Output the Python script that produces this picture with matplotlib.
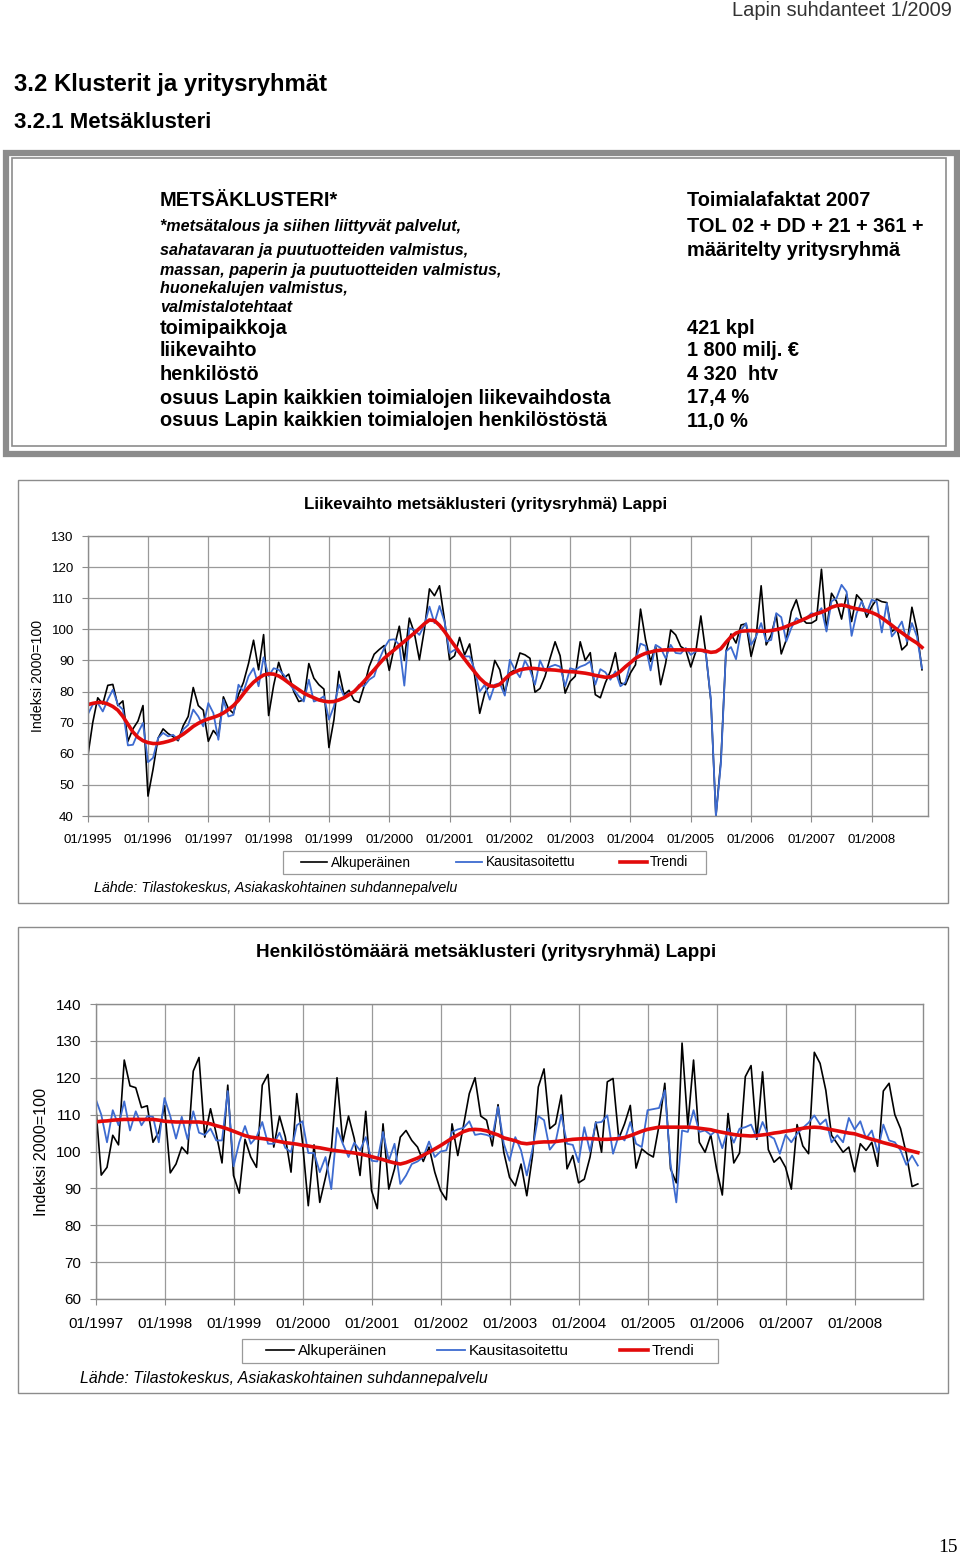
import matplotlib
matplotlib.use('Agg')
import matplotlib.pyplot as plt
from matplotlib.patches import Rectangle
import numpy as np

W, H = 960, 1555
plt.rcParams['font.family'] = ['Liberation Sans', 'DejaVu Sans']

# --- Liikevaihto, monthly 01/1995 - 11/2008 ---
liike_alkup = [
    59, 70, 78, 76, 82, 82.3, 75.5, 77, 64, 68, 70.5, 75.5,
    46.4, 55, 65, 68, 66.5, 65.5, 64.2, 69, 72, 81.3, 75.5, 74,
    64, 67.5, 65.5, 78.3, 74.5, 73, 79, 83, 89, 96.5, 87, 98.3,
    72.3, 82, 89.4, 84.3, 85.6, 80, 76.8, 77.3, 89, 84.3, 82.2, 80.8,
    62, 71, 86.5, 79, 80.4, 77.2, 76.5, 81.7, 88, 92, 93.5, 94.8,
    86.8, 94.3, 101, 90, 103.6, 98.8, 90.2, 100, 113, 110.8, 114, 103,
    90.2, 91.5, 97.4, 91.8, 95.3, 85, 73, 79.5, 82, 90, 87, 79.5,
    86, 87, 92.4, 91.8, 90.7, 79.8, 81, 84.9, 90.7, 96, 91.5, 79.5,
    83.3, 84.9, 96, 90, 92.5, 79, 78, 82.8, 86.5, 92.5, 82.8, 82.2,
    86, 88.6, 106.5, 96.6, 89.7, 94.5, 82.2, 89.1, 99.8, 98.2, 94.5, 93.4,
    87.9, 92.9, 104.3, 92.3, 77, 40, 58, 92.9, 98.5, 95.6, 101.4, 101.8,
    91.3, 97.7, 114, 95, 98.2, 104.7, 92.1, 96.6, 105.7, 109.5, 103.6, 102,
    102, 103, 119.3, 99.8, 111.6, 109, 103.3, 111.3, 102.5, 111.1, 109.3, 103.9,
    107.3, 109.7, 108.9, 108.6, 99.3, 100.4, 93.4, 95, 107.1, 99.8, 87,
]
liike_kausi = [
    72.6, 75.8, 76.3, 73.6, 77.4, 80.6, 75.8, 74.2, 62.7, 62.9, 66.7, 69.9,
    57.3, 58.7, 65, 66.7, 65.6, 66.1, 64.5, 67.8, 69.3, 74.2, 72, 68.8,
    76.3, 73.1, 64.5, 77.4, 72, 72.5, 82.2, 80, 84.9, 87.5, 81.7, 91,
    85, 87.5, 87, 85.4, 82.7, 80.6, 78.5, 76.8, 83.8, 76.8, 77.4, 78.5,
    71, 75.3, 82.2, 78.5, 79.5, 80, 82.2, 81.7, 83.8, 84.9, 90.2, 94,
    96.6, 96.8, 95, 81.9, 100.4, 99.8, 98.2, 101.4, 107.3, 102, 107.5, 102.5,
    92.4, 93.4, 92.4, 91.3, 91.3, 87, 80, 82.2, 77.4, 82.2, 82.7, 78.7,
    90.2, 87, 84.6, 90, 87, 82.2, 90, 86.5, 88, 88.6, 88, 81.7,
    87.5, 87, 88, 88.6, 89.7, 82.2, 87.2, 86.2, 83.8, 86.5, 81.7, 83,
    89.1, 90.2, 95.4, 94.7, 86.8, 95, 94, 90.7, 95, 92.4, 92.2, 94,
    91.8, 92.9, 93.4, 92.3, 77.4, 40, 57, 92.9, 94.3, 90.4, 99.8, 102,
    95, 97.7, 102, 96.1, 96.6, 105.2, 103.9, 96.1, 100.4, 103.6, 102.5, 103.6,
    105.2, 104.7, 106.8, 99.3, 109, 110, 114.3, 112.1, 97.9, 105.2, 109, 105.2,
    109.5, 108.9, 99, 108.4, 97.7, 99.8, 102.5, 96.1, 102, 97.7, 87.5,
]
liike_trendi = [
    75.8, 76.2, 76.5, 76.5, 76, 75.2, 74, 72, 69.5, 67, 65.3, 64.2,
    63.6, 63.3, 63.3, 63.6, 64, 64.5, 65.3, 66.3, 67.5, 68.8, 69.8, 70.6,
    71.2, 71.7, 72.3, 73.1, 74.2, 75.5, 77.2, 79.3, 81.3, 83, 84.3, 85.3,
    85.7, 85.6, 85, 84, 82.8, 81.7, 80.6, 79.5, 78.7, 78, 77.3, 76.9,
    76.7, 76.8, 77.3, 78, 79, 80, 81.6, 83.3, 85.2, 87, 88.9, 90.7,
    92.1, 93.4, 94.8, 96.1, 97.5, 98.8, 100.3, 101.8, 103, 102.8, 101.3, 99.3,
    97, 94.8, 92.5, 90.4, 88.3, 86.3, 84.3, 82.8, 81.8, 81.7, 82.3, 84,
    85.5, 86.3, 87, 87.3, 87.5, 87.4, 87.2, 87, 87, 86.9, 86.7, 86.5,
    86.4, 86.3, 86.1, 85.9, 85.6, 85.2, 84.9, 84.6, 84.7, 85.3, 86.5, 88,
    89.3, 90.7, 91.6, 92.3, 92.7, 93.1, 93.3, 93.4, 93.4, 93.4, 93.4, 93.4,
    93.4, 93.4, 93.3, 93, 92.6, 92.8, 93.8, 95.8, 97.6, 98.8, 99.4, 99.5,
    99.6, 99.5, 99.4, 99.4, 99.6, 99.9, 100.3, 100.9, 101.6, 102.2, 102.9, 103.6,
    104.4, 105, 105.5, 106.2, 107.1, 107.6, 107.8, 107.5, 107, 106.6, 106.3, 106,
    105.4, 104.7, 103.7, 102.5, 101.3, 100, 98.9, 97.7, 96.6, 95.6, 94.2,
]
liike_vuodet = ['01/%d' % v for v in range(1995, 2009)]

# --- Henkilöstömäärä, monthly 01/1997 - 12/2008 ---
henk_alkup = [
    113, 93.6, 95.7, 104.4, 101.8, 124.8, 117.8, 117.3, 111.9, 112.4, 102.5, 105.3,
    112.4, 94.2, 96.6, 101.2, 99.4, 121.8, 125.5, 103.9, 111.6, 104.8, 96.9, 118,
    93.5, 88.7, 103.3, 98.5, 95.7, 118, 120.9, 101.2, 109.6, 104, 94.4, 115.7,
    102.5, 85.3, 101.8, 86.2, 93, 100.3, 120, 102.5, 109.6, 103.5, 93.5, 110.9,
    89.4, 84.5, 107.5, 89.8, 95.3, 103.9, 105.7, 103, 101.2, 97.3, 101.2, 94.4,
    89.4, 86.9, 107.5, 98.9, 107.1, 115.7, 120, 109.6, 108.5, 101.5, 112.7, 99.8,
    93, 90.7, 96.6, 88, 98.9, 117.5, 122.4, 106.2, 107.5, 115.3, 95.3, 98.9,
    91.5, 92.5, 98.5, 108, 99.8, 118.9, 119.8, 103.5, 107.5, 112.5, 95.5, 100.7,
    99.4, 98.5, 107.1, 118.5, 95.3, 91.5, 129.4, 107.1, 124.8, 102.5, 99.8, 104.5,
    95.3, 88.2, 110.3, 96.9, 99.6, 120.3, 123.3, 103.3, 121.6, 100.5, 97.1, 98.5,
    95.7, 89.8, 107.3, 101.5, 99.4, 126.9, 123.9, 116.6, 104.4, 102.1, 99.8, 101.2,
    94.5, 102.1, 100.3, 102.5, 96, 116.4, 118.5, 110, 106.2, 99.4, 90.5, 91.2,
]
henk_kausi = [
    114.4, 110, 102.5, 111.2, 107.1, 113.6, 105.7, 110.9, 107.1, 109.6, 109.4, 102.5,
    114.5, 109.6, 103.5, 109.4, 103.3, 110.9, 105.1, 104.5, 106.2, 103, 103, 116.4,
    96, 102.5, 106.9, 102.1, 103.9, 108, 102.1, 102.1, 105.1, 101, 99.8, 107.1,
    108.2, 99.6, 99.6, 94.4, 98.5, 89.8, 106.4, 102.1, 98.5, 102.4, 100.3, 103.9,
    97.5, 97.3, 105.3, 97.5, 102.1, 91.2, 93.5, 96.6, 97.3, 98.5, 102.7, 98.5,
    100, 100.3, 105.3, 106, 106.4, 108.2, 104.5, 104.8, 104.5, 103.9, 112.1, 102.1,
    97.5, 103.9, 100.3, 93.5, 100.7, 109.6, 108.5, 100.5, 102.5, 110, 102.1, 101.8,
    97.1, 106.6, 100, 107.8, 108, 109.8, 99.4, 104.4, 103, 108, 102.1, 101.2,
    111.2, 111.5, 111.8, 116.6, 96.6, 86.2, 105.7, 105.3, 111.2, 105.3, 105.7, 104.5,
    105.7, 100.9, 106.2, 102.4, 106.2, 106.6, 107.3, 103.6, 108, 104.4, 103.5, 99.4,
    104.5, 102.5, 104.8, 106.4, 107.8, 109.8, 107.3, 108.7, 102.5, 104.4, 102.5, 109.1,
    106, 108.2, 103.5, 105.7, 99.8, 107.3, 103, 102.5, 100.3, 96.4, 98.9, 96.2,
]
henk_trendi = [
    108, 108.2, 108.3, 108.5, 108.6, 108.7, 108.7, 108.7, 108.7, 108.7, 108.7, 108.5,
    108.2, 108.1, 108, 108, 108, 108, 108, 107.8, 107.5, 107, 106.6, 106.1,
    105.5, 104.9, 104.3, 103.9, 103.7, 103.5, 103.3, 103, 102.7, 102.4, 102.2, 102,
    101.7, 101.5, 101.2, 101, 100.7, 100.4, 100.2, 100, 99.8, 99.6, 99.3, 99,
    98.6, 98.2, 97.8, 97.3, 96.9, 96.6, 97, 97.6, 98.2, 99, 99.8, 100.7,
    101.6, 102.6, 103.6, 104.5, 105.4, 105.9, 106, 105.9, 105.6, 105, 104.5, 103.7,
    103.3, 102.9, 102.3, 102.1, 102.3, 102.5, 102.6, 102.6, 102.7, 102.9, 103.1, 103.3,
    103.4, 103.5, 103.5, 103.4, 103.3, 103.3, 103.4, 103.5, 103.8, 104.3, 104.9, 105.5,
    106, 106.3, 106.6, 106.6, 106.6, 106.6, 106.6, 106.6, 106.5, 106.3, 106.1, 105.9,
    105.5, 105.2, 104.9, 104.6, 104.4, 104.3, 104.2, 104.3, 104.5, 104.7, 105, 105.2,
    105.5, 105.7, 106, 106.3, 106.5, 106.6, 106.5, 106.2, 105.9, 105.6, 105.3, 105,
    104.8, 104.3, 103.8, 103.3, 102.9, 102.4, 102, 101.6, 101.1, 100.5, 100.1, 99.7,
]
henk_vuodet = ['01/%d' % v for v in range(1997, 2009)]

sarjat = ['Alkuperäinen', 'Kausitasoitettu', 'Trendi']

fig = plt.figure(figsize=(9.6, 15.55), dpi=100)


def px_axes(l, t, r, b):
    return fig.add_axes([l / W, 1 - b / H, (r - l) / W, (b - t) / H])


def px_text(x, y, s, **kw):
    kw.setdefault('va', 'center')
    fig.text(x / W, 1 - y / H, s, **kw)


def px_rect(l, t, r, b, **kw):
    fig.add_artist(Rectangle((l / W, 1 - b / H), (r - l) / W, (b - t) / H,
                             transform=fig.transFigure, fill=False, **kw))


# page header
px_text(952, 11, 'Lapin suhdanteet 1/2009', ha='right', fontsize=14.4, color='#333333')
px_text(14, 84, '3.2 Klusterit ja yritysryhmät', fontsize=17.2, fontweight='bold')
px_text(14, 122, '3.2.1 Metsäklusteri', fontsize=16.0, fontweight='bold')

# fact box
px_rect(6, 153, 957, 454, edgecolor='#8c8c8c', linewidth=4.5)
px_rect(12, 158, 946, 446, edgecolor='#8c8c8c', linewidth=1.2)

px_text(160, 201, 'METSÄKLUSTERI*', fontsize=14.4, fontweight='bold')
px_text(687, 201, 'Toimialafaktat 2007', fontsize=14.4, fontweight='bold')
pienet = ['*metsätalous ja siihen liittyvät palvelut,',
          'sahatavaran ja puutuotteiden valmistus,',
          'massan, paperin ja puutuotteiden valmistus,',
          'huonekalujen valmistus,',
          'valmistalotehtaat']
for yy, s in zip([227, 250, 270, 288, 307], pienet):
    px_text(160, yy, s, fontsize=11.6, fontweight='bold', style='italic')
px_text(687, 227, 'TOL 02 + DD + 21 + 361 +', fontsize=14.4, fontweight='bold')
px_text(687, 250, 'määritelty yritysryhmä', fontsize=14.4, fontweight='bold')
vasen = ['toimipaikkoja', 'liikevaihto', 'henkilöstö',
         'osuus Lapin kaikkien toimialojen liikevaihdosta',
         'osuus Lapin kaikkien toimialojen henkilöstöstä']
oikea = ['421 kpl', '1 800 milj. €', '4 320  htv', '17,4 %', '11,0 %']
for yy, a, b in zip([328, 351, 375, 398, 421], vasen, oikea):
    px_text(160, yy, a, fontsize=14.4, fontweight='bold')
    px_text(687, yy, b, fontsize=14.4, fontweight='bold')


def chart(box, plot, title, title_y, title_fs, orig, kausi, trendi, labels,
          ylim, yticks, xmax, fs, ylab_x, leg_box, leg_kw, src_xy, src_fs):
    px_rect(*box, edgecolor='#8c8c8c', linewidth=1.0)
    px_text(486, title_y, title, ha='center', fontsize=title_fs, fontweight='bold')
    ax = px_axes(*plot)
    x = np.arange(len(orig))
    l1, = ax.plot(x, orig, color='black', lw=1.2)
    l2, = ax.plot(x, kausi, color='#3d6bd0', lw=1.3)
    l3, = ax.plot(x, trendi, color='#e20a0a', lw=2.6)
    ax.set_xlim(0, xmax)
    ax.set_ylim(*ylim)
    ax.set_yticks(yticks)
    ax.set_xticks(np.arange(len(labels)) * 12)
    ax.set_xticklabels(labels)
    ax.grid(True, color='#9a9a9a', lw=0.9)
    ax.set_axisbelow(True)
    for sp in ax.spines.values():
        sp.set_color('#8c8c8c')
        sp.set_linewidth(1.0)
    ax.tick_params(axis='both', length=4, color='#8c8c8c', labelsize=fs)
    ax.tick_params(axis='y', pad=6)
    ax.tick_params(axis='x', pad=9)
    ax.set_ylabel('Indeksi 2000=100', fontsize=fs + 0.6, va='center')
    ax.yaxis.set_label_coords((ylab_x - plot[0]) / (plot[2] - plot[0]), 0.5)
    # legend box drawn separately, entries centred in it
    px_rect(*leg_box, edgecolor='#9a9a9a', linewidth=0.9)
    cx = (leg_box[0] + leg_box[2]) / 2
    cy = (leg_box[1] + leg_box[3]) / 2
    ax.legend([l1, l2, l3], sarjat, loc='center', ncol=3,
              bbox_to_anchor=(cx / W, 1 - cy / H),
              bbox_transform=fig.transFigure, frameon=False, **leg_kw)
    px_text(src_xy[0], src_xy[1], 'Lähde: Tilastokeskus, Asiakaskohtainen suhdannepalvelu',
            fontsize=src_fs, style='italic')
    return ax


chart((18, 480, 948, 903), (87.7, 536, 928, 816),
      'Liikevaihto metsäklusteri (yritysryhmä) Lappi', 505, 12.2,
      liike_alkup, liike_kausi, liike_trendi, liike_vuodet,
      (40, 130), range(40, 131, 10), 167.2, 9.6, 38, (283, 851, 706, 874),
      dict(fontsize=9.8, handlelength=1.95, handletextpad=0.25,
           columnspacing=3.3, borderpad=0.3),
      (94, 888), 10.25)

chart((18, 927, 948, 1393), (95.5, 1004, 923, 1299),
      'Henkilöstömäärä metsäklusteri (yritysryhmä) Lappi', 953, 13.6,
      henk_alkup, henk_kausi, henk_trendi, henk_vuodet,
      (60, 140), range(60, 141, 10), 143.9, 11, 42, (242, 1339, 718, 1363),
      dict(fontsize=11, handlelength=1.85, handletextpad=0.25,
           columnspacing=3.3, borderpad=0.3),
      (80, 1378), 11.4)

px_text(958, 1547, '15', ha='right', fontsize=14, family='Liberation Serif')

fig.savefig('out.png', dpi=100)
